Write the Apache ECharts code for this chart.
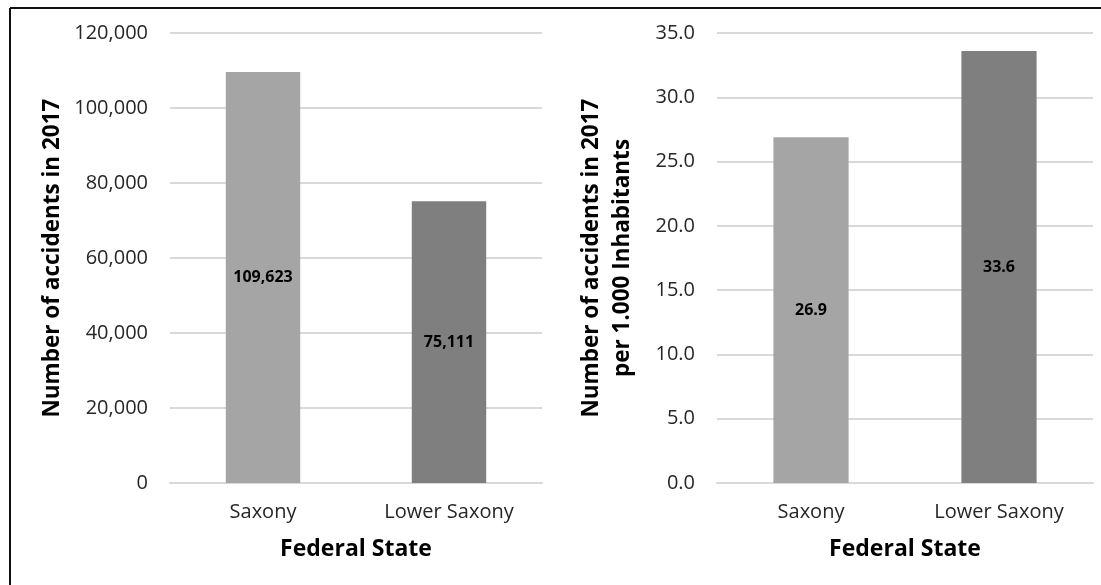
<!DOCTYPE html>
<html>
<head>
<meta charset="utf-8">
<title>Accidents 2017</title>
<script src="https://cdn.jsdelivr.net/npm/echarts@6/dist/echarts.min.js"></script>
<style>
  html, body { margin: 0; padding: 0; background: #fff; }
  #chart { width: 1101px; height: 585px; }
</style>
</head>
<body>
<div id="chart"></div>
<script>
// 数据
const states = ['Saxony', 'Lower Saxony']
const accidents = [109623, 75111]
const accidentsPer1000 = [26.9, 33.6]
const barColors = ['#a5a5a5', '#7f7f7f']

const font = 'Open Sans'

const chart = echarts.init(document.getElementById('chart'))

// 公共坐标轴样式
function catAxis(gridIndex) {
  return {
    type: 'category',
    gridIndex: gridIndex,
    data: states,
    name: 'Federal State',
    nameLocation: 'middle',
    nameGap: 55,
    nameTextStyle: { fontFamily: font, fontWeight: 'bold', fontSize: 23, color: '#000' },
    axisLine: { lineStyle: { color: '#d9d9d9', width: 2 } },
    axisTick: { show: false },
    axisLabel: { margin: 19, fontFamily: font, fontSize: 20, color: '#262626' }
  }
}

function valAxis(gridIndex, max, interval, name, nameGap, fmt) {
  return {
    type: 'value',
    gridIndex: gridIndex,
    min: 0,
    max: max,
    interval: interval,
    name: name,
    nameLocation: 'middle',
    nameGap: nameGap,
    nameTextStyle: { fontFamily: font, fontWeight: 'bold', fontSize: 22.5, lineHeight: 31, color: '#000' },
    axisLine: { show: false },
    axisTick: { show: false },
    splitLine: { lineStyle: { color: '#d9d9d9', width: 2 } },
    axisLabel: { margin: 22, fontFamily: font, fontSize: 20, color: '#262626', formatter: fmt }
  }
}

function barSeries(idx, values, fmt) {
  return {
    type: 'bar',
    xAxisIndex: idx,
    yAxisIndex: idx,
    barWidth: '40%',
    data: values.map((v, i) => ({ value: v, itemStyle: { color: barColors[i] } })),
    label: {
      show: true,
      position: 'inside',
      fontFamily: font,
      fontWeight: 'bold',
      fontSize: 16,
      color: '#000',
      formatter: p => fmt(p.value)
    }
  }
}

const fmtThousands = v => v.toLocaleString('en-US')
const fmtOne = v => v.toFixed(1)

const option = {
  animation: false,
  grid: [
    { left: 170, right: 559, top: 33, bottom: 102 },
    { left: 717, right: 8, top: 33, bottom: 102 }
  ],
  xAxis: [catAxis(0), catAxis(1)],
  yAxis: [
    valAxis(0, 120000, 20000, 'Number of accidents in 2017', 102, fmtThousands),
    valAxis(1, 35, 5, 'Number of accidents in 2017\nper 1.000 Inhabitants', 79, fmtOne)
  ],
  series: [
    barSeries(0, accidents, fmtThousands),
    barSeries(1, accidentsPer1000, fmtOne)
  ],
  graphic: [
    // 外框（只有左边和上边可见）
    { type: 'line', shape: { x1: 10, y1: 8, x2: 1101, y2: 8 }, style: { stroke: '#111', lineWidth: 2 } },
    { type: 'line', shape: { x1: 10, y1: 8, x2: 10, y2: 585 }, style: { stroke: '#111', lineWidth: 2 } }
  ]
}

chart.setOption(option)
</script>
</body>
</html>
